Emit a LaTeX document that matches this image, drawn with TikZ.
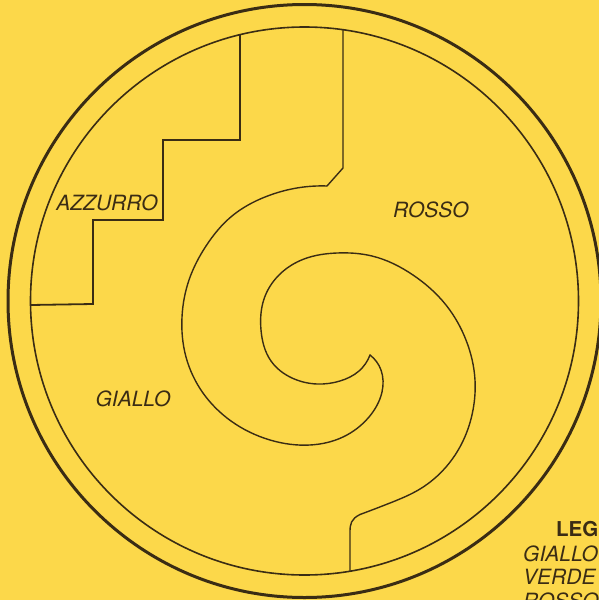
\documentclass[tikz,border=0pt]{standalone}
\usepackage{fontspec}
\setmainfont{TeX Gyre Heros}
\usetikzlibrary{hobby}
\definecolor{bg}{HTML}{FCD84A}
\definecolor{ink}{HTML}{3A2C14}
\tikzset{
  outerring/.style={draw=ink, line width=3pt},
  innerring/.style={draw=ink, line width=1.6pt},
  stairline/.style={draw=ink, line width=1.8pt, line join=miter},
  spiralline/.style={draw=ink, line width=1.4pt, line join=miter, line cap=round},
  region/.style={text=ink, inner sep=0pt, font=\itshape\fontsize{21}{24}\selectfont},
  legtitle/.style={text=ink, inner sep=0pt, font=\bfseries\fontsize{20.5}{24}\selectfont},
  legitem/.style={text=ink, inner sep=0pt, font=\itshape\fontsize{21}{24}\selectfont}
}
\begin{document}
\begin{tikzpicture}[x=1pt,y=-1pt]
\useasboundingbox (0,0) rectangle (599,600);
\fill[bg] (0,0) rectangle (599,600);
\clip (0,0) rectangle (599,600);

% rings
\coordinate (c) at (304.5,301);
\path[outerring] (c) circle (296.5pt);
\path[innerring] (c) circle (274pt);

% staircase
\path[stairline] (30.5,305) -- (93,304) -- (93,220) -- (163,220) -- (163,140) -- (240,140) -- (240,34.7);

% spiral band
\coordinate (top) at (343,29.7);
\coordinate (knee) at (327,186);
\coordinate (tip) at (370,355);
\coordinate (foot) at (360,514.5);
\coordinate (bot) at (350,571);
\path[spiralline] (top) -- (343,168) -- (knee);
\path[spiralline, use Hobby shortcut] (knee) .. (300,187.5) .. (265,197) .. (232,216) .. (206,246) .. (189,280) .. (182,317) .. (186,357) .. (203,393) .. (231,421) .. (270,440) .. (310,445) .. (343,437) .. (369,417) .. (382,392) .. (381,370) .. (tip);
\path[spiralline, use Hobby shortcut] (tip) .. (359,371) .. (340,381) .. (317,384) .. (292,378) .. (271,361) .. (261,330) .. (264,299) .. (279,275) .. (304,259) .. (337,253) .. (372,256) .. (413,275) .. (446,305) .. (466,340) .. (475,380) .. (473,410) .. (463,441) .. (446,467) .. (420,489) .. (390,503) .. (foot);
\path[spiralline] (foot) .. controls (351,519) and (350,524) .. (350,532) -- (bot);

% region labels
\node[region, anchor=base] (azz) at (107,210.5) {AZZURRO};
\node[region, anchor=base] (ros) at (431,217) {ROSSO};
\node[region, anchor=base] (gia) at (133,406) {GIALLO};

% legend
\node[legtitle, anchor=base west] (leg) at (556,536) {LEG};
\node[legitem, anchor=base west] (lg1) at (523,561) {GIALLO};
\node[legitem, anchor=base west] (lg2) at (523,584) {VERDE};
\node[legitem, anchor=base west] (lg3) at (523,608) {ROSSO};
\end{tikzpicture}
\end{document}
